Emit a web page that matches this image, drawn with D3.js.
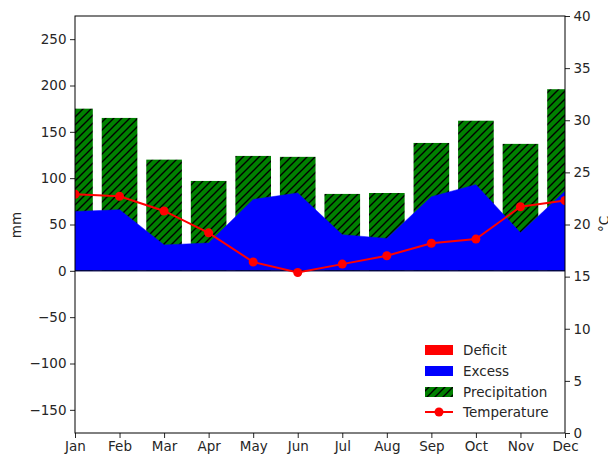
<!DOCTYPE html>
<html>
<head>
<meta charset="utf-8">
<script src="https://cdn.jsdelivr.net/npm/d3@7"></script>
<style>
  body { margin: 0; background: #fff; }
  svg { display: block; font-family: "DejaVu Sans", sans-serif; }
</style>
</head>
<body>
<svg id="chart" width="608" height="457"></svg>
<script>
const months = ["Jan","Feb","Mar","Apr","May","Jun","Jul","Aug","Sep","Oct","Nov","Dec"];
const precipitation = [175, 165, 120, 97, 124, 123, 83, 84, 138, 162, 137, 196];
const excess = [64, 66, 28, 30, 77, 84, 39, 35, 80, 93, 41, 86];
const deficit = [0, 0, 0, 0, 0, 0, 0, 0, 0, 0, 0, 0];
const temperature = [22.9, 22.7, 21.3, 19.2, 16.4, 15.4, 16.2, 17.0, 18.2, 18.6, 21.7, 22.3];
const mmTicks = [-150, -100, -50, 0, 50, 100, 150, 200, 250];
const tempTicks = [0, 5, 10, 15, 20, 25, 30, 35, 40];
const legendLabels = ["Deficit", "Excess", "Precipitation", "Temperature"];

const svg = d3.select("#chart");
const L = 75, R = 565, T = 16, B = 433;

const x = d3.scaleLinear().domain([0, 11]).range([L, R]);
const y = d3.scaleLinear().domain([-175, 275]).range([B, T]);
const yT = d3.scaleLinear().domain([0, 40]).range([B, T]);
const step = x(1) - x(0);
const barW = step * 0.8;

const defs = svg.append("defs");
defs.append("clipPath").attr("id", "plotclip")
  .append("rect").attr("x", L).attr("y", T).attr("width", R - L).attr("height", B - T);
const hs = 8;
const pat = defs.append("pattern").attr("id", "hatch")
  .attr("patternUnits", "userSpaceOnUse").attr("width", hs).attr("height", hs);
pat.append("rect").attr("width", hs).attr("height", hs).attr("fill", "#008000");
pat.append("path").attr("d", `M-1,${hs + 1} L${hs + 1},-1 M-${hs / 2 + 1},${hs / 2 + 1} L${hs / 2 + 1},-${hs / 2 + 1} M${hs / 2 - 1},${hs * 1.5 + 1} L${hs * 1.5 + 1},${hs / 2 - 1}`)
  .attr("stroke", "#000").attr("stroke-width", 1.4);

const plot = svg.append("g").attr("clip-path", "url(#plotclip)");

// precipitation bars
plot.selectAll("rect.bar").data(precipitation).join("rect")
  .attr("class", "bar")
  .attr("x", (d, i) => x(i) - barW / 2)
  .attr("width", barW)
  .attr("y", d => y(d))
  .attr("height", d => y(0) - y(d))
  .attr("fill", "url(#hatch)");

// excess area
const areaEx = d3.area().x((d, i) => x(i)).y0(y(0)).y1(d => y(d));
plot.append("path").datum(excess).attr("d", areaEx).attr("fill", "#0000ff").attr("stroke", "#0000ff").attr("stroke-width", 0.5);

// deficit area
const areaDef = d3.area().x((d, i) => x(i)).y0(y(0)).y1(d => y(-d));
plot.append("path").datum(deficit).attr("d", areaDef).attr("fill", "#ff0000");

// zero line
plot.append("line").attr("x1", L).attr("x2", R).attr("y1", y(0)).attr("y2", y(0))
  .attr("stroke", "#000").attr("stroke-width", 1);

// temperature
const line = d3.line().x((d, i) => x(i)).y(d => yT(d));
plot.append("path").datum(temperature).attr("d", line)
  .attr("fill", "none").attr("stroke", "#ff0000").attr("stroke-width", 2);
plot.selectAll("circle.t").data(temperature).join("circle")
  .attr("class", "t")
  .attr("cx", (d, i) => x(i)).attr("cy", d => yT(d)).attr("r", 4.5)
  .attr("fill", "#ff0000");

// axes
const fs = "13.5px";
const axL = svg.append("g").attr("transform", `translate(${L},0)`)
  .call(d3.axisLeft(y).tickValues(mmTicks).tickSize(5).tickPadding(3.5)
    .tickFormat(d => d < 0 ? "\u2212" + Math.abs(d) : d));
const axR = svg.append("g").attr("transform", `translate(${R},0)`)
  .call(d3.axisRight(yT).tickValues(tempTicks).tickSize(5).tickPadding(3.5));
const axB = svg.append("g").attr("transform", `translate(0,${B})`)
  .call(d3.axisBottom(x).tickValues(d3.range(12)).tickSize(5).tickPadding(3.5)
    .tickFormat(i => months[i]));
[axL, axR, axB].forEach(a => {
  a.select(".domain").remove();
  a.selectAll("text").attr("font-size", fs).attr("fill", "#262626")
    .attr("font-family", "DejaVu Sans, sans-serif");
  a.selectAll("line").attr("stroke", "#262626").attr("stroke-width", 1);
});

// spines
svg.append("rect").attr("x", L).attr("y", T).attr("width", R - L).attr("height", B - T)
  .attr("fill", "none").attr("stroke", "#000").attr("stroke-width", 1);

// axis labels
svg.append("text").attr("transform", `translate(21,225) rotate(-90)`)
  .attr("text-anchor", "middle").attr("font-size", fs).attr("fill", "#262626").text("mm");
svg.append("text").attr("transform", `translate(609,224) rotate(-90)`)
  .attr("text-anchor", "middle").attr("font-size", fs).attr("fill", "#262626").text("°C");

// legend
const lg = svg.append("g");
const rowY = [350, 371, 392, 412];
legendLabels.forEach((lab, i) => {
  const yy = rowY[i];
  if (i === 0) lg.append("rect").attr("x", 425).attr("y", yy - 5).attr("width", 28).attr("height", 10).attr("fill", "#ff0000");
  if (i === 1) lg.append("rect").attr("x", 425).attr("y", yy - 5).attr("width", 28).attr("height", 10).attr("fill", "#0000ff");
  if (i === 2) lg.append("rect").attr("x", 425).attr("y", yy - 5).attr("width", 28).attr("height", 10).attr("fill", "url(#hatch)");
  if (i === 3) {
    lg.append("line").attr("x1", 425).attr("x2", 453).attr("y1", yy).attr("y2", yy)
      .attr("stroke", "#ff0000").attr("stroke-width", 2);
    lg.append("circle").attr("cx", 439).attr("cy", yy).attr("r", 4.5).attr("fill", "#ff0000");
  }
  lg.append("text").attr("x", 463).attr("y", yy).attr("dy", "0.35em")
    .attr("font-size", fs).attr("fill", "#262626").text(lab);
});
</script>
</body>
</html>
